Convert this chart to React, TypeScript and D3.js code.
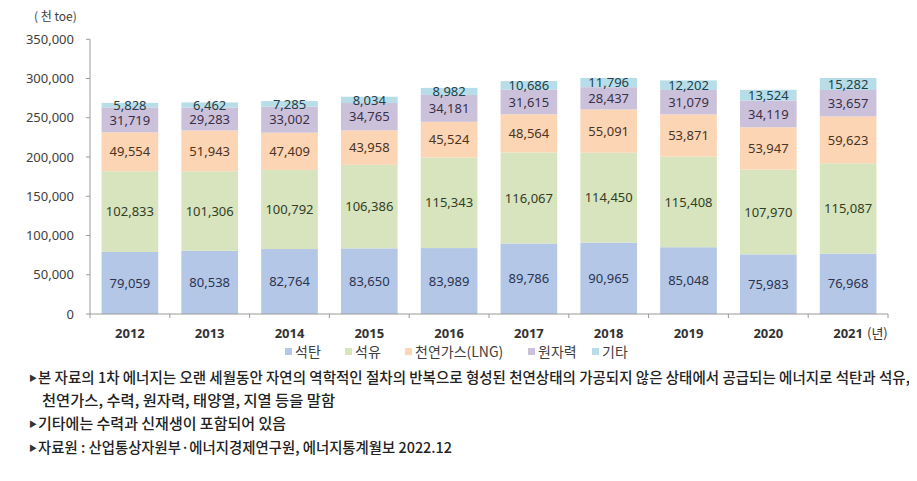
import React from "react";
import * as d3 from "d3";

const years = ["2012", "2013", "2014", "2015", "2016", "2017", "2018", "2019", "2020", "2021"];
const coal = [79059, 80538, 82764, 83650, 83989, 89786, 90965, 85048, 75983, 76968];
const oil = [102833, 101306, 100792, 106386, 115343, 116067, 114450, 115408, 107970, 115087];
const lng = [49554, 51943, 47409, 43958, 45524, 48564, 55091, 53871, 53947, 59623];
const nuclear = [31719, 29283, 33002, 34765, 34181, 31615, 28437, 31079, 34119, 33657];
const other = [5828, 6462, 7285, 8034, 8982, 10686, 11796, 12202, 13524, 15282];
const seriesNames = ["석탄", "석유", "천연가스(LNG)", "원자력", "기타"];
const yTicks = [0, 50000, 100000, 150000, 200000, 250000, 300000, 350000];
const notes = [
  "본 자료의 1차 에너지는 오랜 세월동안 자연의 역학적인 절차의 반복으로 형성된 천연상태의 가공되지 않은 상태에서 공급되는 에너지로 석탄과 석유,",
  "천연가스, 수력, 원자력, 태양열, 지열 등을 말함",
  "기타에는 수력과 신재생이 포함되어 있음",
  "자료원 : 산업통상자원부·에너지경제연구원, 에너지통계월보 2022.12",
];

const fills = ["#b4c7e7", "#d7e4bd", "#fcd5b5", "#ccc1da", "#b7dee8"];
const labelColors = ["#2a3450", "#333d26", "#4a3424", "#3a3048", "#24404a"];

export default function App() {
  const W = 917, H = 481;
  const left = 90, right = 888, top = 39.25, bottom = 314;
  const x = d3.scaleBand<string>().domain(years).range([left, right]).paddingInner(0.29).paddingOuter(0.145);
  const y = d3.scaleLinear().domain([0, 350000]).range([bottom, top]);
  const series = [coal, oil, lng, nuclear, other];
  const rows = years.map((yr, i) => {
    const o: any = { year: yr };
    seriesNames.forEach((n, k) => (o[n] = series[k][i]));
    return o;
  });
  const stacked = d3.stack<any>().keys(seriesNames)(rows);
  const step = x.step();
  const fmt = d3.format(",");
  const numFont = "'Noto Sans', 'Liberation Sans', Arial, sans-serif";
  const krFont = "'Noto Sans CJK KR', 'Noto Sans', sans-serif";
  const legendX = [285, 345, 405, 528, 592];
  const noteY = [383, 406, 429, 453];
  const noteX = [38, 42, 38, 38];
  const noteLen = [872, 293, 248, 414];

  return (
    <svg width={W} height={H} style={{ display: "block", margin: "-8px" }} viewBox={`0 0 ${W} ${H}`}>
      <rect width={W} height={H} fill="#fff" />
      <text x={34} y={21} fontFamily={krFont} fontSize={12} fill="#404040">( 천 toe)</text>
      {/* y axis */}
      <line x1={left} x2={left} y1={top} y2={bottom} stroke="#9a9a9a" strokeWidth={1} />
      {yTicks.map((t) => (
        <g key={t}>
          <line x1={left - 4} x2={left} y1={y(t)} y2={y(t)} stroke="#9a9a9a" />
          <text x={74} y={y(t)} dy="0.35em" textAnchor="end" fontFamily={numFont} fontSize={13} fill="#404040">{fmt(t)}</text>
        </g>
      ))}
      {/* bars */}
      {stacked.map((s, k) => (
        <g key={s.key}>
          {s.map((d, i) => (
            <rect key={i} x={x(years[i])} width={x.bandwidth()} y={y(d[1])} height={y(d[0]) - y(d[1])} fill={fills[k]} />
          ))}
        </g>
      ))}
      {stacked.map((s, k) => (
        <g key={s.key + "l"}>
          {s.map((d, i) => (
            <text key={i} x={(x(years[i]) as number) + x.bandwidth() / 2} y={(y(d[0]) + y(d[1])) / 2} dy="0.36em" textAnchor="middle" fontFamily={numFont} fontSize={13} fill={labelColors[k]}>
              {fmt(series[k][i])}
            </text>
          ))}
        </g>
      ))}
      {/* x axis */}
      <line x1={left} x2={right} y1={bottom} y2={bottom} stroke="#9a9a9a" />
      {years.map((yr) => (
        <line key={yr} x1={(x(yr) as number) - (step - x.bandwidth()) / 2} x2={(x(yr) as number) - (step - x.bandwidth()) / 2} y1={bottom} y2={bottom + 4} stroke="#9a9a9a" />
      ))}
      <line x1={right} x2={right} y1={bottom} y2={bottom + 4} stroke="#9a9a9a" />
      {years.map((yr) => (
        <text key={yr} x={(x(yr) as number) + x.bandwidth() / 2} y={333} dy="0.35em" textAnchor="middle" fontFamily={numFont} fontSize={13} fontWeight="bold" fill="#333">{yr}</text>
      ))}
      <text x={867} y={333} dy="0.35em" fontFamily={krFont} fontSize={13} fill="#333">(년)</text>
      {/* legend */}
      {seriesNames.map((n, k) => (
        <g key={n}>
          <rect x={legendX[k]} y={348} width={7} height={7} fill={fills[k]} />
          <text x={legendX[k] + 10} y={352} dy="0.36em" fontFamily={krFont} fontSize={14} fill="#404040">{n}</text>
        </g>
      ))}
      {/* notes */}
      {notes.map((t, i) => (
        <g key={i}>
          {i !== 1 && <text x={29} y={noteY[i] - 2} fontFamily={krFont} fontSize={8} fill="#333">▶</text>}
          <text x={noteX[i]} y={noteY[i]} fontFamily={krFont} fontSize={14.5} fontWeight={500} fill="#222" textLength={noteLen[i]} lengthAdjust="spacingAndGlyphs">{t}</text>
        </g>
      ))}
    </svg>
  );
}
